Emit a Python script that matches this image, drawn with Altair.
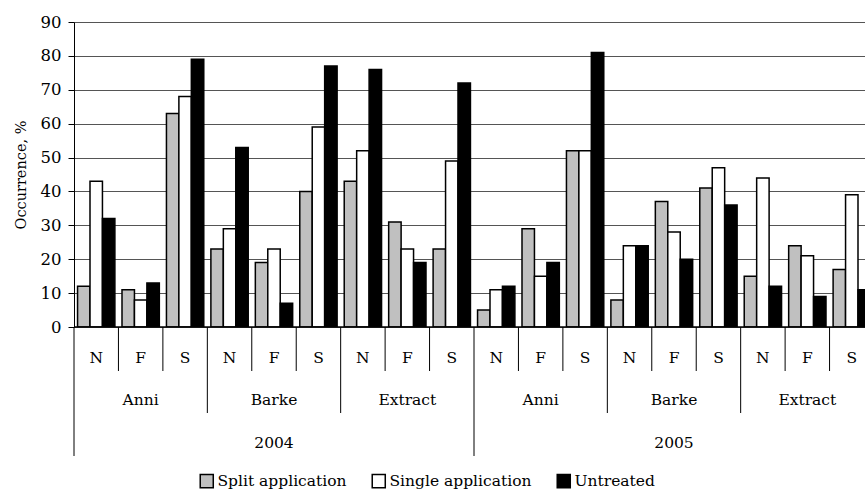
import altair as alt
import pandas as pd

years = ["2004", "2005"]
varieties = ["Anni", "Barke", "Extract"]
timings = ["N", "F", "S"]
treatments = ["Split application", "Single application", "Untreated"]
fills = ["#c0c0c0", "#ffffff", "#000000"]

split = [12, 11, 63, 23, 19, 40, 43, 31, 23, 5, 29, 52, 8, 37, 41, 15, 24, 17]
single = [43, 8, 68, 29, 23, 59, 52, 23, 49, 11, 15, 52, 24, 28, 47, 44, 21, 39]
untreated = [32, 13, 79, 53, 7, 77, 76, 19, 72, 12, 19, 81, 24, 20, 36, 12, 9, 11]
y_ticks = [0, 10, 20, 30, 40, 50, 60, 70, 80, 90]

FONT = "DejaVu Serif"
FS = 15.5
H = 305
W = 791

groups = []
for y in years:
    for v in varieties:
        for t in timings:
            groups.append((y, v, t))
keys = [f"{y}|{v}|{t}" for (y, v, t) in groups]

rows = []
for i, k in enumerate(keys):
    for tr, vals in zip(treatments, [split, single, untreated]):
        rows.append({"group": k, "treatment": tr, "value": vals[i]})
bars_df = pd.DataFrame(rows)

tim_df = pd.DataFrame({"group": keys, "text": [g[2] for g in groups]})
var_df = pd.DataFrame({"group": [f"{y}|{v}|F" for y in years for v in varieties],
                       "text": [v for y in years for v in varieties]})
year_df = pd.DataFrame({"group": [f"{y}|Barke|F" for y in years], "text": years})

rule_rows = []
for i, k in enumerate(keys):
    lvl = "year" if i % 9 == 0 else ("variety" if i % 3 == 0 else "timing")
    rule_rows.append({"group": k, "level": lvl})
rules_df = pd.DataFrame(rule_rows)

xscale = alt.Scale(domain=keys, range=[0, 800], paddingInner=0, paddingOuter=0)
yscale = alt.Scale(domain=[0, 90], nice=False)

def xenc(band=0.5):
    return alt.X("group:N", sort=keys, scale=xscale, axis=None, bandPosition=band)

bars = alt.Chart(bars_df).mark_bar(stroke="black", strokeWidth=1.5, clip=True).encode(
    x=xenc(),
    xOffset=alt.XOffset("treatment:N", sort=treatments,
                        scale=alt.Scale(domain=treatments, paddingInner=0, paddingOuter=0.286)),
    y=alt.Y("value:Q", scale=yscale,
            axis=alt.Axis(values=y_ticks, title="Occurrence, %", labelOverlap=False,
                          grid=True, gridColor="#555555", gridWidth=1,
                          domainColor="black", tickColor="black", tickSize=6,
                          labelFont=FONT, labelFontSize=16.5, labelColor="black",
                          labelPadding=7, titleFont=FONT, titleFontSize=14.5,
                          titleFontWeight="normal", titleColor="black", titlePadding=12)),
    color=alt.Color("treatment:N", sort=treatments,
                    scale=alt.Scale(domain=treatments, range=fills),
                    legend=alt.Legend(title=None, orient="none", direction="horizontal",
                                      legendX=125, legendY=451,
                                      symbolType="square", symbolSize=170,
                                      symbolStrokeColor="black", symbolStrokeWidth=1.5,
                                      labelFont=FONT, labelFontSize=FS, labelColor="black",
                                      labelOffset=3, columnPadding=22)),
)

baseline = alt.Chart(pd.DataFrame({"v": [0]})).mark_rule(color="black", strokeWidth=1.5).encode(
    y=alt.value(H), x=alt.value(0), x2=alt.value(W))

def labels(df, ypos):
    return alt.Chart(df).mark_text(font=FONT, fontSize=FS, color="black", baseline="middle").encode(
        x=xenc(), y=alt.value(ypos), text="text:N")

def rule_layer(level, length):
    return alt.Chart(rules_df).transform_filter(alt.datum.level == level).mark_rule(
        color="black", strokeWidth=1).encode(
        x=xenc(0), y=alt.value(H), y2=alt.value(H + length))

chart = alt.layer(
    bars,
    baseline,
    labels(tim_df, H + 31),
    labels(var_df, H + 73),
    labels(year_df, H + 116),
    rule_layer("timing", 44),
    rule_layer("variety", 86),
    rule_layer("year", 129),
).properties(
    width=W, height=H,
    autosize=alt.AutoSizeParams(type="none"),
    padding={"left": 74, "top": 22, "right": 0, "bottom": 164},
).configure_view(stroke=None).configure(background="white", font=FONT)

chart.save("out.html", embed_options={"renderer": "svg", "actions": False})
